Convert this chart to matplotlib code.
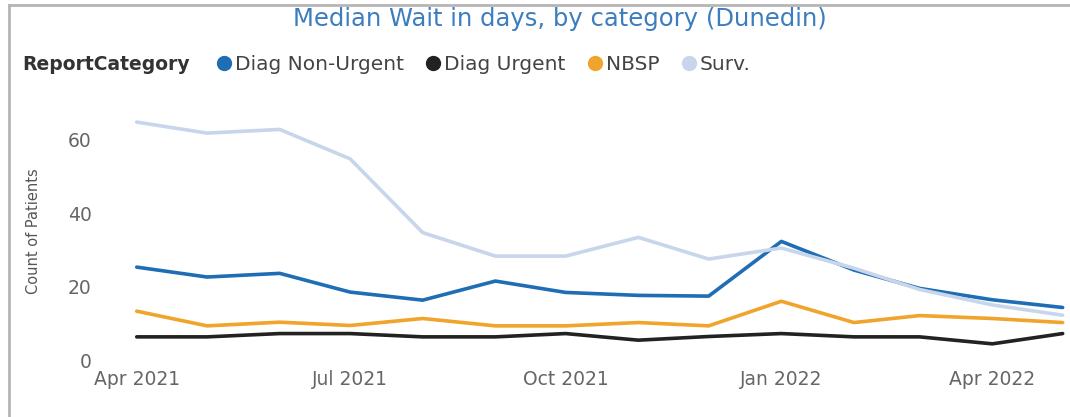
#!/usr/bin/env python3
"""Median wait in days by report category (Dunedin) - monthly line chart."""

import matplotlib
matplotlib.use("Agg")
import matplotlib.pyplot as plt
import matplotlib.dates as mdates
from matplotlib.lines import Line2D
import pandas as pd

# monthly points, Apr 2021 .. May 2022
months = pd.date_range("2021-04-01", "2022-05-01", freq="MS")

categories = ["Diag Non-Urgent", "Diag Urgent", "NBSP", "Surv."]
diag_non_urgent = [25.3, 22.6, 23.6, 18.5, 16.3, 21.5, 18.4, 17.6, 17.4, 32.3, 24.5, 19.5, 16.4, 14.3]
diag_urgent = [6.3, 6.3, 7.2, 7.2, 6.3, 6.3, 7.2, 5.4, 6.4, 7.2, 6.3, 6.3, 4.4, 7.2]
nbsp = [13.3, 9.3, 10.3, 9.4, 11.3, 9.3, 9.3, 10.2, 9.3, 16.0, 10.2, 12.1, 11.3, 10.2]
surv = [64.8, 61.8, 62.8, 54.8, 34.7, 28.3, 28.3, 33.4, 27.5, 30.5, 25.0, 19.2, 15.0, 12.2]

colors = ["#1f6db5", "#222222", "#f0a42b", "#c7d6ea"]
title_color = "#3b7dbf"
text_gray = "#666666"

fig = plt.figure(figsize=(10.70, 4.17), dpi=100)
ax = fig.add_axes([125 / 1070, 1 - 360 / 417, 940 / 1070, 257 / 417])

series = [diag_non_urgent, diag_urgent, nbsp, surv]
# draw Surv. first so the darker lines sit on top
for i in [3, 2, 1, 0]:
    ax.plot(months, series[i], color=colors[i], linewidth=2.6,
            solid_capstyle="round", solid_joinstyle="round", zorder=2 + i)

ax.set_ylim(0, 70)
ax.set_yticks([0, 20, 40, 60])
ax.set_xlim(months[0] - pd.Timedelta(days=5), months[-1] + pd.Timedelta(days=1))
ax.xaxis.set_major_locator(mdates.MonthLocator(bymonth=[1, 4, 7, 10]))
ax.xaxis.set_major_formatter(mdates.DateFormatter("%b %Y"))

for s in ax.spines.values():
    s.set_visible(False)
ax.tick_params(axis="both", length=0, labelsize=13.5, labelcolor=text_gray)
ax.tick_params(axis="y", pad=24)
ax.tick_params(axis="x", pad=7)
ax.set_ylabel("Count of Patients", fontsize=10.5, color="#555555", labelpad=19)

fig.text(560 / 1070, 1 - 19 / 417, "Median Wait in days, by category (Dunedin)",
         ha="center", va="center", fontsize=17.5, color=title_color)

fig.text(22 / 1070, 1 - 65 / 417, "ReportCategory", ha="left", va="center",
         fontsize=13.5, fontweight="bold", color="#333333")
handles = [Line2D([], [], linestyle="none", marker="o", markersize=10,
                  markerfacecolor=c, markeredgecolor=c) for c in colors]
leg = fig.legend(handles, categories, loc="center left",
                 bbox_to_anchor=(215 / 1070, 1 - 65 / 417), ncol=4, frameon=False,
                 fontsize=14.5, handletextpad=0.1, columnspacing=1.0,
                 handlelength=0.9, borderaxespad=0, borderpad=0)
for t in leg.get_texts():
    t.set_color("#444444")

# report frame: top and left border
fig.add_artist(Line2D([9 / 1070, 1], [1 - 5 / 417, 1 - 5 / 417],
                      transform=fig.transFigure, color="#b5b5b5", linewidth=2))
fig.add_artist(Line2D([9 / 1070, 9 / 1070], [0, 1 - 5 / 417],
                      transform=fig.transFigure, color="#b5b5b5", linewidth=2))

fig.savefig("out.png", dpi=100)
